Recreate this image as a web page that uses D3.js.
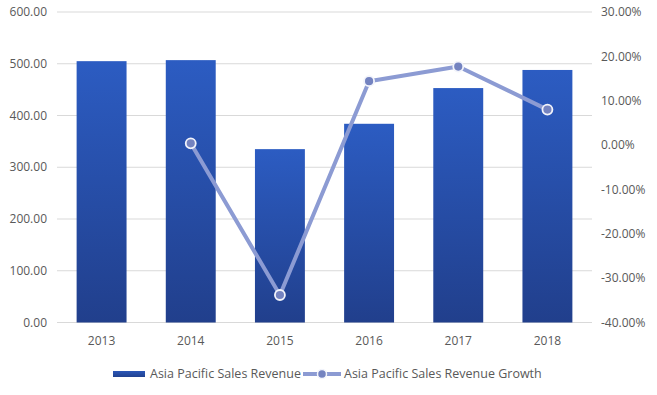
<html>
<head>
<meta charset="utf-8">
<script src='https://d3js.org/d3.v7.min.js'></script>
<style>
  body { margin: 0; background: #fff; }
  svg { display: block; font-family: 'Open Sans', sans-serif; }
</style>
</head>
<body>
<svg width=657 height=395></svg>
<script>
var years = ["2013", "2014", "2015", "2016", "2017", "2018"];
var revenue = [505, 507, 335, 384, 453, 488];
var growth = [null, 0.004, -0.338, 0.144, 0.177, 0.080];
var leftTicks = [0, 100, 200, 300, 400, 500, 600];
var rightTicks = [-0.4, -0.3, -0.2, -0.1, 0, 0.1, 0.2, 0.3];

var svg = d3.select("svg");
var plotLeft = 57, plotRight = 592, plotTop = 12, plotBottom = 322.5;

var x = d3.scaleBand().domain(years).range([plotLeft, plotRight]).paddingInner(0.44).paddingOuter(0.22);
var y = d3.scaleLinear().domain([0, 600]).range([plotBottom, plotTop]);
var y2 = d3.scaleLinear().domain([-0.4, 0.3]).range([plotBottom, plotTop]);

//gradient for bars
var defs = svg.append("defs");
var grad = defs.append("linearGradient").attr("id", "barGrad")
  .attr("x1", 0).attr("y1", 0).attr("x2", 0).attr("y2", 1);
grad.append("stop").attr("offset", "0%").attr("stop-color", "#2c5cc2");
grad.append("stop").attr("offset", "100%").attr("stop-color", "#213f8c");

var gGrad = defs.append("linearGradient").attr("id", "legGrad")
  .attr("x1", 0).attr("y1", 0).attr("x2", 0).attr("y2", 1);
gGrad.append("stop").attr("offset", "0%").attr("stop-color", "#2b57b8");
gGrad.append("stop").attr("offset", "100%").attr("stop-color", "#21418f");

//gridlines
svg.append("g").selectAll("line").data(leftTicks).enter().append("line")
  .attr("x1", plotLeft).attr("x2", plotRight)
  .attr("y1", function(d) { return y(d); })
  .attr("y2", function(d) { return y(d); })
  .attr("stroke", "#d9d9d9").attr("stroke-width", 1);

//left axis labels
svg.append("g").selectAll("text").data(leftTicks).enter().append("text")
  .attr("x", 47).attr("y", function(d) { return y(d); })
  .attr("dy", "0.35em").attr("text-anchor", "end")
  .attr("font-size", 12).attr("fill", "#595959")
  .text(function(d) { return d3.format(".2f")(d); });

//right axis labels (plain hyphen like the original)
svg.append("g").selectAll("text").data(rightTicks).enter().append("text")
  .attr("x", 601).attr("y", function(d) { return y2(d); })
  .attr("dy", "0.35em").attr("text-anchor", "start")
  .attr("font-size", 12).attr("fill", "#595959")
  .text(function(d) { return d3.format(".2%")(d).replace("\u2212", "-"); });

//bars
svg.append("g").selectAll("rect").data(revenue).enter().append("rect")
  .attr("x", function(d, i) { return x(years[i]); })
  .attr("y", function(d) { return y(d); })
  .attr("width", x.bandwidth())
  .attr("height", function(d) { return y(0) - y(d); })
  .attr("fill", "url(#barGrad)");

//x labels
svg.append("g").selectAll("text").data(years).enter().append("text")
  .attr("x", function(d) { return x(d) + x.bandwidth() / 2; })
  .attr("y", 345).attr("text-anchor", "middle")
  .attr("font-size", 12).attr("fill", "#595959")
  .text(function(d) { return d; });

//growth line
var pts = growth.map(function(d, i) { return {year: years[i], v: d}; })
  .filter(function(d) { return d.v !== null; });

svg.append("path").datum(pts)
  .attr("fill", "none").attr("stroke", "#8c9bd3").attr("stroke-width", 4)
  .attr("stroke-linejoin", "round")
  .attr("d", d3.line()
    .x(function(d) { return x(d.year) + x.bandwidth() / 2; })
    .y(function(d) { return y2(d.v); }));

svg.append("g").selectAll("circle").data(pts).enter().append("circle")
  .attr("cx", function(d) { return x(d.year) + x.bandwidth() / 2; })
  .attr("cy", function(d) { return y2(d.v); })
  .attr("r", 5)
  .attr("fill", "#7483c0").attr("stroke", "#f2f4fb").attr("stroke-width", 1.8);

//legend
var leg = svg.append("g");
leg.append("rect").attr("x", 113).attr("y", 371).attr("width", 32).attr("height", 6)
  .attr("fill", "url(#legGrad)");
leg.append("text").attr("x", 150).attr("y", 378)
  .attr("font-size", 12.5).attr("fill", "#595959")
  .text("Asia Pacific Sales Revenue");
leg.append("line").attr("x1", 303).attr("x2", 341).attr("y1", 374).attr("y2", 374)
  .attr("stroke", "#8c9bd3").attr("stroke-width", 4);
leg.append("circle").attr("cx", 322).attr("cy", 374).attr("r", 4.5)
  .attr("fill", "#7483c0").attr("stroke", "#f2f4fb").attr("stroke-width", 1.5);
leg.append("text").attr("x", 344).attr("y", 378)
  .attr("font-size", 12.5).attr("fill", "#595959")
  .text("Asia Pacific Sales Revenue Growth");
</script>
</body>
</html>
